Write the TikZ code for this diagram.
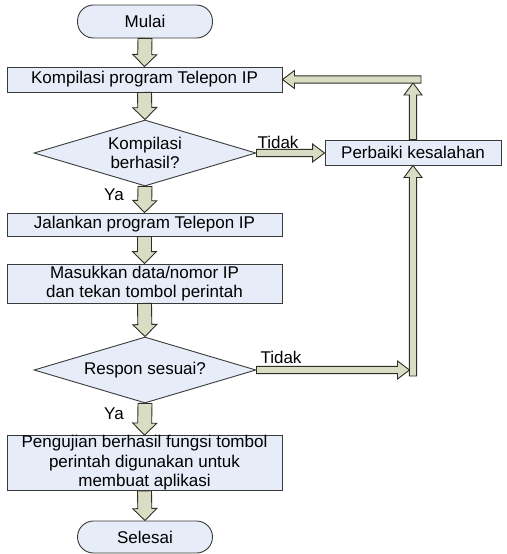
\documentclass[tikz,border=0pt]{standalone}
\usepackage{fontspec}
\setmainfont{Liberation Sans}
\usetikzlibrary{shapes.geometric,calc}

\definecolor{nodefill}{HTML}{E6ECF8}
\definecolor{nodeline}{HTML}{3A3A3A}
\definecolor{arrfill}{HTML}{DADDC4}
\definecolor{arrline}{HTML}{2E2E26}

\tikzset{
  base/.style={draw=nodeline, fill=nodefill, line width=0.9pt, inner sep=0pt,
    align=center, font=\fontsize{17}{19.5}\selectfont},
  terminal/.style={base, rectangle, rounded corners=16pt, minimum width=135pt, minimum height=33pt},
  process/.style={base, rectangle, minimum width=275pt},
  decision/.style={base, diamond, aspect=3.36, minimum width=222pt, minimum height=66pt},
  lbl/.style={font=\fontsize{17}{19.5}\selectfont, inner sep=0pt},
  fatline/.style={draw=arrline, fill=arrfill, line width=0.9pt, line join=miter},
}

% block arrow: shaft half width, head half width, head length, from, to
\newcommand\blockarrow[5]{%
  \coordinate (fabase) at ($(#5)!#3!(#4)$);
  \draw[fatline] ($(#4)!#1!90:(#5)$) -- ($(fabase)!#1!90:(#5)$)
    -- ($(fabase)!#2!90:(#5)$) -- (#5) -- ($(fabase)!#2!-90:(#5)$)
    -- ($(fabase)!#1!-90:(#5)$) -- ($(#4)!#1!-90:(#5)$) -- cycle;
}
\newcommand\mainflow[2]{\blockarrow{7pt}{12pt}{12pt}{#1}{#2}}
\newcommand\sideflow[2]{\blockarrow{3.6pt}{9pt}{12pt}{#1}{#2}}

\begin{document}
\begin{tikzpicture}[x=1pt, y=-1pt]
  \useasboundingbox (0,0) rectangle (506,554);

  % main column
  \node[terminal] (start) at (145,21.5) {Mulai};
  \node[process, minimum height=25pt] (komp) at (144.5,79.5) {Kompilasi program Telepon IP};
  \node[decision] (d1) at (145,153) {Kompilasi\\berhasil?};
  \node[process, minimum height=23pt] (run) at (144.5,224.5) {Jalankan program Telepon IP};
  \node[process, minimum height=39pt] (input) at (144.5,283.5) {Masukkan data/nomor IP\\dan tekan tombol perintah};
  \node[decision] (d2) at (145,370) {Respon sesuai?};
  \node[process, minimum height=50pt] (test) at (144.5,463)
    {Pengujian berhasil fungsi tombol\\perintah digunakan untuk\\membuat aplikasi};
  \node[terminal, minimum height=32pt] (stop) at (145,537) {Selesai};

  % repair step on the right
  \node[base, rectangle, minimum width=176pt, minimum height=25pt] (perb) at (413,152.5) {Perbaiki kesalahan};

  % bends of the loop back
  \coordinate (utop) at (413,83);
  \coordinate (lstart) at (421,79.5);
  \coordinate (rjoin) at (409.5,370);
  \coordinate (rbot) at (413,376);

  % branch labels
  \node[lbl] (t1) at (278,142) {Tidak};
  \node[lbl] (y1) at (114,195) {Ya};
  \node[lbl] (t2) at (281,357) {Tidak};
  \node[lbl] (y2) at (114,414) {Ya};

  % main flow
  \mainflow{start.south}{komp.north}
  \mainflow{komp.south}{d1.north}
  \mainflow{d1.south}{run.north}
  \mainflow{run.south}{input.north}
  \mainflow{input.south}{d2.north}
  \mainflow{d2.south}{test.north}
  \mainflow{test.south}{stop.north}

  % failure branches and loop back
  \sideflow{d1.east}{perb.west |- d1.east}
  \sideflow{perb.north}{utop}
  \sideflow{lstart}{komp.east}
  \sideflow{d2.east}{rjoin}
  \sideflow{rbot}{perb.south}
\end{tikzpicture}
\end{document}
